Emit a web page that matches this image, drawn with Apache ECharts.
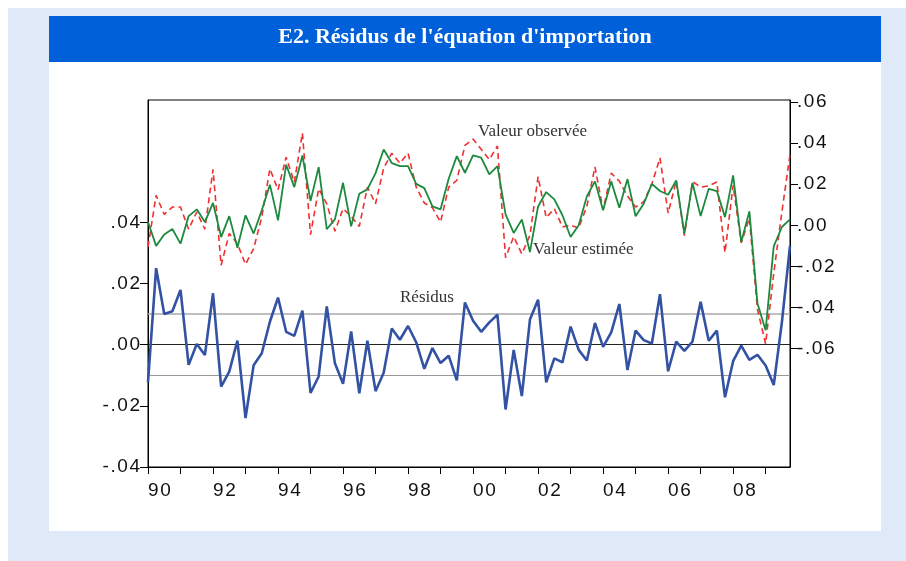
<!DOCTYPE html>
<html>
<head>
<meta charset="utf-8">
<script src="https://cdn.jsdelivr.net/npm/echarts@6/dist/echarts.min.js"></script>
<style>
  html, body { margin: 0; padding: 0; background: #fff; }
  #chart { width: 906px; height: 561px; }
</style>
</head>
<body>
<div id="chart"></div>
<script>
// trimestres 1990T1 - 2009T4
const years = [];
for (let y = 1990; y <= 2009; y++) years.push(y);
const quarters = [];
years.forEach(y => { for (let q = 1; q <= 4; q++) quarters.push(y + 'Q' + q); });

const yearLabels = ['90', '92', '94', '96', '98', '00', '02', '04', '06', '08'];
const leftTicks = [-0.04, -0.02, 0, 0.02, 0.04];
const rightTicks = [-0.06, -0.04, -0.02, 0, 0.02, 0.04, 0.06];
const stdBand = 0.0109;

// résidus (axe de gauche)
const residus = [
  -0.0123, 0.0250, 0.0100, 0.0109, 0.0179, -0.0066, 0.0002, -0.0034,
  0.0168, -0.0137, -0.0088, 0.0013, -0.0240, -0.0067, -0.0028, 0.0075,
  0.0154, 0.0042, 0.0029, 0.0111, -0.0158, -0.0104, 0.0125, -0.0061,
  -0.0128, 0.0043, -0.0159, 0.0013, -0.0152, -0.0092, 0.0053, 0.0016,
  0.0061, 0.0008, -0.0079, -0.0011, -0.0060, -0.0036, -0.0117, 0.0138,
  0.0078, 0.0042, 0.0073, 0.0098, -0.0212, -0.0017, -0.0168, 0.0082,
  0.0147, -0.0123, -0.0045, -0.0058, 0.0059, -0.0017, -0.0052, 0.0071,
  -0.0007, 0.0040, 0.0133, -0.0083, 0.0046, 0.0015, 0.0004, 0.0165,
  -0.0087, 0.0010, -0.0020, 0.0010, 0.0140, 0.0013, 0.0046, -0.0172,
  -0.0054, -0.0003, -0.0050, -0.0033, -0.0068, -0.0132, 0.0073, 0.0323
];

// valeur observée (axe de droite)
const observee = [
  -0.0105, 0.0146, 0.0053, 0.0089, 0.0089, -0.0019, 0.0065, -0.0019,
  0.0272, -0.0194, -0.0040, -0.0089, -0.0190, -0.0113, 0.0040, 0.0275,
  0.0173, 0.0332, 0.0210, 0.0449, -0.0045, 0.0178, 0.0105, -0.0029,
  0.0081, 0.0044, -0.0005, 0.0186, 0.0105, 0.0279, 0.0351, 0.0303,
  0.0351, 0.0186, 0.0109, 0.0086, 0.0016, 0.0186, 0.0219, 0.0389,
  0.0420, 0.0370, 0.0320, 0.0386, -0.0157, -0.0055, -0.0139, -0.0048,
  0.0237, 0.0037, 0.0081, -0.0008, 0.0001, -0.0013, 0.0093, 0.0284,
  0.0075, 0.0254, 0.0215, 0.0143, 0.0089, 0.0115, 0.0201, 0.0328,
  0.0060, 0.0216, -0.0050, 0.0213, 0.0186, 0.0192, 0.0211, -0.0133,
  0.0195, -0.0085, 0.0035, -0.0410, -0.0576, -0.0234, 0.0065, 0.0345
];

// valeur estimée (axe de droite)
const estimee = [
  0.0016, -0.0100, -0.0045, -0.0018, -0.0089, 0.0045, 0.0078, 0.0016,
  0.0109, -0.0057, 0.0045, -0.0109, 0.0049, -0.0040, 0.0073, 0.0198,
  0.0024, 0.0295, 0.0186, 0.0340, 0.0119, 0.0283, -0.0019, 0.0029,
  0.0207, -0.0005, 0.0154, 0.0175, 0.0254, 0.0369, 0.0303, 0.0288,
  0.0288, 0.0202, 0.0181, 0.0092, 0.0078, 0.0227, 0.0337, 0.0256,
  0.0340, 0.0329, 0.0248, 0.0288, 0.0053, -0.0037, 0.0028, -0.0130,
  0.0092, 0.0162, 0.0126, 0.0049, -0.0057, 0.0000, 0.0141, 0.0214,
  0.0073, 0.0214, 0.0086, 0.0225, 0.0044, 0.0105, 0.0202, 0.0167,
  0.0149, 0.0219, -0.0040, 0.0207, 0.0045, 0.0178, 0.0167, 0.0040,
  0.0243, -0.0081, 0.0068, -0.0380, -0.0510, -0.0102, -0.0008, 0.0029
];

// format ".04" / "-.02"
function fmtTick(v) {
  const s = Math.abs(v) < 1e-9 ? '.00' : (v < 0 ? '-' : '') + Math.abs(v).toFixed(2).slice(1);
  return s.split('').join('\u200a');
}

const chart = echarts.init(document.getElementById('chart'), null, { renderer: 'canvas' });

const labelFont = { fontFamily: 'Liberation Sans, Arial, sans-serif', fontSize: 19, color: '#111' };
const noteFont = 'Liberation Serif, serif';

const option = {
  animation: false,
  backgroundColor: '#fff',
  graphic: [
    { type: 'rect', z: -10, shape: { x: 8, y: 8, width: 898, height: 553 }, style: { fill: '#dfe9f8' } },
    { type: 'rect', z: -9, shape: { x: 49, y: 62, width: 832, height: 469 }, style: { fill: '#fff' } },
    { type: 'rect', z: -9, shape: { x: 49, y: 16, width: 832, height: 46 }, style: { fill: '#0060d9' } },
    {
      type: 'text', z: 5, x: 465, y: 37,
      style: {
        text: "E2. Résidus de l'équation d'importation",
        fill: '#fff', font: 'bold 22px ' + noteFont,
        align: 'center', verticalAlign: 'middle'
      }
    },
    {
      type: 'text', z: 5, x: 478, y: 132,
      style: { text: 'Valeur observée', fill: '#333', font: '17px ' + noteFont, verticalAlign: 'middle' }
    },
    {
      type: 'text', z: 5, x: 533, y: 250,
      style: { text: 'Valeur estimée', fill: '#333', font: '17px ' + noteFont, verticalAlign: 'middle' }
    },
    {
      type: 'text', z: 5, x: 400, y: 298,
      style: { text: 'Résidus', fill: '#333', font: '17px ' + noteFont, verticalAlign: 'middle' }
    }
  ],
  grid: {
    left: 148, right: 116, top: 100, bottom: 94,
    show: true, borderColor: '#000', borderWidth: 1, backgroundColor: 'transparent'
  },
  xAxis: {
    type: 'category',
    data: quarters,
    boundaryGap: false,
    axisLine: { onZero: false, lineStyle: { color: '#000', width: 1 } },
    axisTick: { interval: 3, length: 7, lineStyle: { color: '#000' } },
    axisLabel: Object.assign({}, labelFont, {
      interval: (idx) => idx % 8 === 0,
      formatter: (val, idx) => (yearLabels[idx / 8] || '').split('').join('\u200a'),
      align: 'left',
      margin: 14
    }),
    splitLine: { show: false }
  },
  yAxis: [
    {
      type: 'value', position: 'left', min: -0.04, max: 0.08,
      axisLine: { show: true, onZero: false, lineStyle: { color: '#000' } },
      axisTick: { show: true, length: 8, customValues: leftTicks, lineStyle: { color: '#000' } },
      axisLabel: Object.assign({}, labelFont, { customValues: leftTicks, formatter: fmtTick, margin: 8 }),
      splitLine: { show: false }
    },
    {
      type: 'value', position: 'right', min: -0.1176, max: 0.061,
      axisLine: { show: true, onZero: false, lineStyle: { color: '#000' } },
      axisTick: { show: true, length: 8, customValues: rightTicks, lineStyle: { color: '#000' } },
      axisLabel: Object.assign({}, labelFont, { customValues: rightTicks, formatter: fmtTick, margin: 7 }),
      splitLine: { show: false }
    }
  ],
  series: [
    {
      name: 'Résidus', type: 'line', yAxisIndex: 0, data: residus,
      symbol: 'none', lineStyle: { color: '#3352a3', width: 2.6 },
      markLine: {
        silent: true, symbol: 'none', label: { show: false }, z: 1,
        data: [
          { yAxis: 0, lineStyle: { color: '#222', width: 1.2, type: 'solid' } },
          { yAxis: stdBand, lineStyle: { color: '#aaa', width: 1.6, type: 'solid' } },
          { yAxis: -stdBand, lineStyle: { color: '#999', width: 1.2, type: 'solid' } }
        ]
      }
    },
    {
      name: 'Valeur observée', type: 'line', yAxisIndex: 1, data: observee,
      symbol: 'none', lineStyle: { color: '#f03030', width: 1.6, type: [6, 4] }
    },
    {
      name: 'Valeur estimée', type: 'line', yAxisIndex: 1, data: estimee,
      symbol: 'none', lineStyle: { color: '#1b8a3e', width: 1.8 }
    }
  ]
};

chart.setOption(option);
</script>
</body>
</html>
